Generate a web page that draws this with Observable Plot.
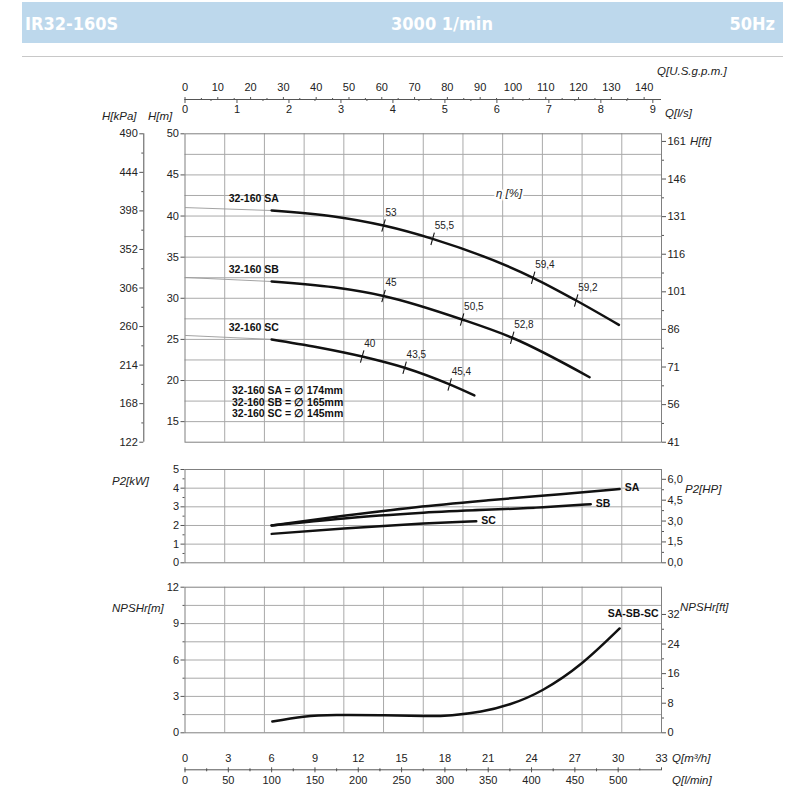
<!DOCTYPE html>
<html>
<head>
<meta charset="utf-8">
<script src="https://cdn.jsdelivr.net/npm/d3@7"></script>
<script src="https://cdn.jsdelivr.net/npm/@observablehq/plot@0.6"></script>
<style>
html,body{margin:0;padding:0;background:#fff;}
#root{position:relative;width:800px;height:800px;overflow:hidden;font-family:"Liberation Sans",Arial,sans-serif;color:#222;}
#root svg{position:absolute;left:0;top:0;}
.band{position:absolute;left:22px;top:2px;width:761px;height:41px;background:#bdd8ec;}
.band span{position:absolute;top:0;line-height:44px;color:#fff;font-family:"DejaVu Sans Condensed","DejaVu Sans",sans-serif;font-stretch:condensed;font-weight:bold;font-size:18px;white-space:nowrap;}
.rule{position:absolute;left:22px;top:55.5px;width:761px;height:1px;background:#c8c8c8;}
.t{position:absolute;font-style:italic;font-size:11.5px;line-height:14px;white-space:nowrap;color:#222;}
</style>
</head>
<body>
<div id="root">
  <div class="band">
    <span style="left:3px">IR32-160S</span>
    <span style="left:360px;width:120px;text-align:center">3000 1/min</span>
    <span style="right:8px">50Hz</span>
  </div>
  <div class="rule"></div>
  <div class="t" style="left:657px;top:64px">Q[U.S.g.p.m.]</div>
  <div class="t" style="left:665px;top:106px">Q[l/s]</div>
  <div class="t" style="left:102px;top:109px">H[kPa]</div>
  <div class="t" style="left:148px;top:109px">H[m]</div>
  <div class="t" style="left:690px;top:134px">H[ft]</div>
  <div class="t" style="left:112px;top:474px">P2[kW]</div>
  <div class="t" style="left:685px;top:482px">P2[HP]</div>
  <div class="t" style="left:112px;top:601px">NPSHr[m]</div>
  <div class="t" style="left:680px;top:600px">NPSHr[ft]</div>
  <div class="t" style="left:672px;top:751px">Q[m³/h]</div>
  <div class="t" style="left:672px;top:773px">Q[l/min]</div>
</div>
<script>
// ---------------- data ----------------
const seriesNames = ["SA", "SB", "SC"];
const impellerMm = [174, 165, 145];

const qTicksM3h = [0, 3, 6, 9, 12, 15, 18, 21, 24, 27, 30, 33];
const qTicksLmin = [0, 50, 100, 150, 200, 250, 300, 350, 400, 450, 500];
const qTicksLs = [0, 1, 2, 3, 4, 5, 6, 7, 8, 9];
const qTicksGpm = [0, 10, 20, 30, 40, 50, 60, 70, 80, 90, 100, 110, 120, 130, 140];
const hTicksM = [15, 20, 25, 30, 35, 40, 45, 50];
const hTicksKpa = [122, 168, 214, 260, 306, 352, 398, 444, 490];
const hTicksFt = [41, 56, 71, 86, 101, 116, 131, 146, 161];
const p2TicksKw = [0, 1, 2, 3, 4, 5];
const p2TicksHp = [0, 1.5, 3, 4.5, 6];
const npshTicksM = [0, 3, 6, 9, 12];
const npshTicksFt = [0, 8, 16, 24, 32];

// head curves Q [m3/h], H [m]
const saQ = [6, 10.3, 13.75, 17.15, 24.11, 27.09, 30.05];
const saH = [40.67, 39.95, 38.85, 37.23, 32.49, 29.73, 26.77];
const sbQ = [6, 10.3, 13.75, 19.19, 22.66, 28.02];
const sbH = [32.04, 31.33, 30.28, 27.42, 25.2, 20.4];
const scQ = [6, 9.17, 12.27, 15.21, 18.33, 20.04];
const scH = [25.0, 24.05, 22.92, 21.55, 19.52, 18.18];
const shutoffH = [41.03, 32.53, 25.48];

// efficiency marks
const etaSeries = ["SA", "SA", "SA", "SA", "SB", "SB", "SB", "SC", "SC", "SC"];
const etaQ = [13.75, 17.15, 24.11, 27.09, 13.75, 19.19, 22.66, 12.27, 15.21, 18.33];
const etaH = [38.85, 37.23, 32.49, 29.73, 30.28, 27.42, 25.2, 22.92, 21.55, 19.52];
const etaLabel = ["53", "55,5", "59,4", "59,2", "45", "50,5", "52,8", "40", "43,5", "45,4"];

// power P2 [kW]
const saP2Q = [6, 11, 16, 21, 26, 30.1];
const saP2 = [2.0, 2.52, 2.98, 3.35, 3.68, 3.95];
const sbP2Q = [6, 11, 16.5, 24.8, 28.1];
const sbP2 = [2.0, 2.38, 2.68, 2.98, 3.14];
const scP2Q = [6, 11, 16.5, 20.17];
const scP2 = [1.55, 1.84, 2.1, 2.23];

// NPSHr [m]
const npshQ = [6.05, 8.2, 10.5, 13.5, 16.5, 18.5, 20.5, 22.5, 24.8, 27.5, 30.1];
const npshM = [0.93, 1.33, 1.47, 1.45, 1.38, 1.45, 1.75, 2.35, 3.55, 5.75, 8.6];

// ---------------- build tables ----------------
const headQ = [saQ, sbQ, scQ], headH = [saH, sbH, scH];
const headRows = seriesNames.flatMap((s, i) => headQ[i].map((q, j) => ({s, q, h: headH[i][j]})));
const startRows = seriesNames.map((s, i) => ({s, q: headQ[i][0], h: headH[i][0]}));
const shutoffRows = seriesNames.map((s, i) => ({s, q1: 0, h1: shutoffH[i], q2: headQ[i][0], h2: headH[i][0]}));
const etaRows = etaQ.map((q, i) => ({s: etaSeries[i], q, h: etaH[i], label: etaLabel[i]}));
const p2Q = [saP2Q, sbP2Q, scP2Q], p2V = [saP2, sbP2, scP2];
const p2Rows = seriesNames.flatMap((s, i) => p2Q[i].map((q, j) => ({s, q, p: p2V[i][j]})));
const p2End = seriesNames.map((s, i) => ({s, q: p2Q[i][p2Q[i].length - 1], p: p2V[i][p2V[i].length - 1]}));
const npshRows = npshQ.map((q, i) => ({q, n: npshM[i]}));

// unit conversions
const M3H_PER_LS = 3.6, M3H_PER_GPM = 0.227125, FT_PER_M = 3.28084, HP_PER_KW = 1.34102, LMIN_PER_M3H = 1000 / 60;
const qMax = 33;
const mids = a => d3.pairs(a, (x, y) => (x + y) / 2);
const qGrid = d3.range(1, 12).map(i => i * qMax / 12);

// ---------------- layout ----------------
const W = 800, HH = 800;
const X0 = 184.5, X1 = 661, mR = W - X1;
const hTop = 133.3, hBot = 441.7;
const pTop = 469, pBot = 562.3;
const nTop = 586.7, nBot = 732.3;
const gridC = "#a9a9a9", frameC = "#808080", axisC = "#555", ink = "#111";
const style = {background: "transparent", fontSize: "11px", fontFamily: "'Liberation Sans', Arial, sans-serif", color: "#222", overflow: "visible"};
const root = document.getElementById("root");
function layer(opts) {
  const svg = Plot.plot({width: W, height: HH, style, ...opts});
  svg.style.position = "absolute"; svg.style.left = "0px"; svg.style.top = "0px";
  root.appendChild(svg);
}
const blank = () => "";
const comma1 = d => d.toFixed(1).replace(".", ",");

// ---- Head panel ----
layer({
  marginLeft: X0, marginRight: mR, marginTop: hTop, marginBottom: HH - hBot,
  x: {domain: [0, qMax], axis: null},
  y: {domain: [12.5, 50], axis: null},
  marks: [
    Plot.ruleX(qGrid, {stroke: gridC, strokeWidth: 1}),
    Plot.ruleY(d3.range(15, 50, 2.5), {stroke: gridC, strokeWidth: 1}),
    Plot.frame({stroke: frameC}),
    Plot.axisY(hTicksM, {anchor: "left", tickSize: 4, tickPadding: 2, label: null, stroke: axisC}),
    Plot.link(shutoffRows, {x1: "q1", y1: "h1", x2: "q2", y2: "h2", stroke: "#999", strokeWidth: 0.9}),
    Plot.line(headRows, {x: "q", y: "h", z: "s", curve: "monotone-x", stroke: ink, strokeWidth: 2.5}),
    Plot.link(etaRows, {x1: d => d.q - 0.12, x2: d => d.q + 0.12, y1: d => d.h - 0.75, y2: d => d.h + 0.75, stroke: ink, strokeWidth: 1.1}),
    Plot.text(etaRows, {x: "q", y: "h", text: "label", textAnchor: "start", dx: 2, dy: -13, fontSize: 10, fill: "#222"}),
    Plot.text(startRows, {x: "q", y: "h", text: d => "32-160 " + d.s, textAnchor: "start", dx: -43, dy: -12, fontSize: 10.5, fontWeight: "bold", fill: ink}),
    Plot.text([seriesNames.map((s, i) => `32-160 ${s} = ∅ ${impellerMm[i]}mm`).join("\n")],
      {frameAnchor: "bottom-left", textAnchor: "start", dx: 47, dy: -25, lineHeight: 1.1, fontSize: 10.5, fontWeight: "bold", fill: ink}),
    Plot.text(["η [%]"], {frameAnchor: "top-left", textAnchor: "start", dx: 311, dy: 55, fontSize: 11.5, fontStyle: "italic", fill: "#222", stroke: "white", strokeWidth: 4})
  ]
});
// kPa axis
layer({
  marginLeft: 143.3, marginRight: mR, marginTop: hTop, marginBottom: HH - hBot,
  x: {domain: [0, 1], axis: null},
  y: {domain: [hTicksKpa[0], hTicksKpa[hTicksKpa.length - 1]], axis: null},
  marks: [
    Plot.ruleX([0], {stroke: axisC}),
    Plot.axisY(hTicksKpa, {anchor: "left", tickSize: 4, tickPadding: 2, label: null, stroke: axisC}),
    Plot.axisY(mids(hTicksKpa), {anchor: "left", tickSize: 2, tickFormat: blank, label: null, stroke: axisC})
  ]
});
// ft axis
layer({
  marginLeft: X0, marginRight: mR, marginTop: hTop, marginBottom: HH - hBot,
  x: {domain: [0, 1], axis: null},
  y: {domain: [12.5 * FT_PER_M, 50 * FT_PER_M], axis: null},
  marks: [
    Plot.axisY(hTicksFt, {anchor: "right", tickSize: 4, tickPadding: 2, label: null, stroke: axisC}),
    Plot.axisY(mids(hTicksFt), {anchor: "right", tickSize: 2, tickFormat: blank, label: null, stroke: axisC})
  ]
});

// ---- top flow axes ----
layer({ // l/s, ticks down
  marginLeft: X0, marginRight: mR, marginTop: 90, marginBottom: HH - 99,
  x: {domain: [0, qMax / M3H_PER_LS], axis: null},
  y: {domain: [0, 1], axis: null},
  marks: [
    Plot.ruleY([0], {stroke: axisC}),
    Plot.axisX(qTicksLs, {anchor: "bottom", tickSize: 4, tickPadding: 2, label: null, stroke: axisC}),
    Plot.axisX(mids(qTicksLs), {anchor: "bottom", tickSize: 2, tickFormat: blank, label: null, stroke: axisC})
  ]
});
layer({ // US gpm, ticks up
  marginLeft: X0, marginRight: mR, marginTop: 99, marginBottom: HH - 110,
  x: {domain: [0, qMax / M3H_PER_GPM], axis: null},
  y: {domain: [0, 1], axis: null},
  marks: [
    Plot.axisX(qTicksGpm, {anchor: "top", tickSize: 3, tickPadding: 6, label: null, stroke: axisC}),
    Plot.axisX(mids(qTicksGpm), {anchor: "top", tickSize: 2, tickFormat: blank, label: null, stroke: axisC})
  ]
});

// ---- P2 panel ----
layer({
  marginLeft: X0, marginRight: mR, marginTop: pTop, marginBottom: HH - pBot,
  x: {domain: [0, qMax], axis: null},
  y: {domain: [0, 5], axis: null},
  marks: [
    Plot.ruleX(qGrid, {stroke: gridC}),
    Plot.ruleY([1, 2, 3, 4], {stroke: gridC}),
    Plot.frame({stroke: frameC}),
    Plot.axisY(p2TicksKw, {anchor: "left", tickSize: 4, tickPadding: 2, label: null, stroke: axisC}),
    Plot.axisY(mids(p2TicksKw), {anchor: "left", tickSize: 2, tickFormat: blank, label: null, stroke: axisC}),
    Plot.line(p2Rows, {x: "q", y: "p", z: "s", curve: "monotone-x", stroke: ink, strokeWidth: 2.5}),
    Plot.text(p2End, {x: "q", y: "p", text: "s", textAnchor: "start", dx: 5, dy: -1, fontSize: 10.5, fontWeight: "bold", fill: ink})
  ]
});
layer({ // HP
  marginLeft: X0, marginRight: mR, marginTop: pTop, marginBottom: HH - pBot,
  x: {domain: [0, 1], axis: null},
  y: {domain: [0, 5 * HP_PER_KW], axis: null},
  marks: [
    Plot.axisY(p2TicksHp, {anchor: "right", tickSize: 4, tickPadding: 2, tickFormat: comma1, label: null, stroke: axisC}),
    Plot.axisY(mids(p2TicksHp), {anchor: "right", tickSize: 2, tickFormat: blank, label: null, stroke: axisC})
  ]
});

// ---- NPSH panel ----
layer({
  marginLeft: X0, marginRight: mR, marginTop: nTop, marginBottom: HH - nBot,
  x: {domain: [0, qMax], axis: null},
  y: {domain: [0, 12], axis: null},
  marks: [
    Plot.ruleX(qGrid, {stroke: gridC}),
    Plot.ruleY(d3.range(1.5, 12, 1.5), {stroke: gridC}),
    Plot.frame({stroke: frameC}),
    Plot.axisY(npshTicksM, {anchor: "left", tickSize: 4, tickPadding: 2, label: null, stroke: axisC}),
    Plot.axisY(mids(npshTicksM), {anchor: "left", tickSize: 2, tickFormat: blank, label: null, stroke: axisC}),
    Plot.line(npshRows, {x: "q", y: "n", curve: "natural", stroke: ink, strokeWidth: 2.5}),
    Plot.text([seriesNames.join("-")], {frameAnchor: "top-right", textAnchor: "end", dx: -3, dy: 22, fontSize: 10.5, fontWeight: "bold", fill: ink})
  ]
});
layer({ // ft
  marginLeft: X0, marginRight: mR, marginTop: nTop, marginBottom: HH - nBot,
  x: {domain: [0, 1], axis: null},
  y: {domain: [0, 12 * FT_PER_M], axis: null},
  marks: [
    Plot.axisY(npshTicksFt, {anchor: "right", tickSize: 4, tickPadding: 2, label: null, stroke: axisC}),
    Plot.axisY(mids(npshTicksFt), {anchor: "right", tickSize: 2, tickFormat: blank, label: null, stroke: axisC})
  ]
});

// ---- bottom flow axes ----
layer({ // m3/h, ticks up
  marginLeft: X0, marginRight: mR, marginTop: 769.3, marginBottom: HH - 780,
  x: {domain: [0, qMax], axis: null},
  y: {domain: [0, 1], axis: null},
  marks: [
    Plot.ruleY([1], {stroke: axisC}),
    Plot.axisX(qTicksM3h, {anchor: "top", tickSize: 3, tickPadding: 5, label: null, stroke: axisC}),
    Plot.axisX(mids(qTicksM3h), {anchor: "top", tickSize: 2, tickFormat: blank, label: null, stroke: axisC})
  ]
});
layer({ // l/min, ticks down
  marginLeft: X0, marginRight: mR, marginTop: 760, marginBottom: HH - 769.3,
  x: {domain: [0, qMax * LMIN_PER_M3H], axis: null},
  y: {domain: [0, 1], axis: null},
  marks: [
    Plot.axisX(qTicksLmin, {anchor: "bottom", tickSize: 3, tickPadding: 3, label: null, stroke: axisC}),
    Plot.axisX(mids(qTicksLmin), {anchor: "bottom", tickSize: 2, tickFormat: blank, label: null, stroke: axisC})
  ]
});
</script>
</body>
</html>
